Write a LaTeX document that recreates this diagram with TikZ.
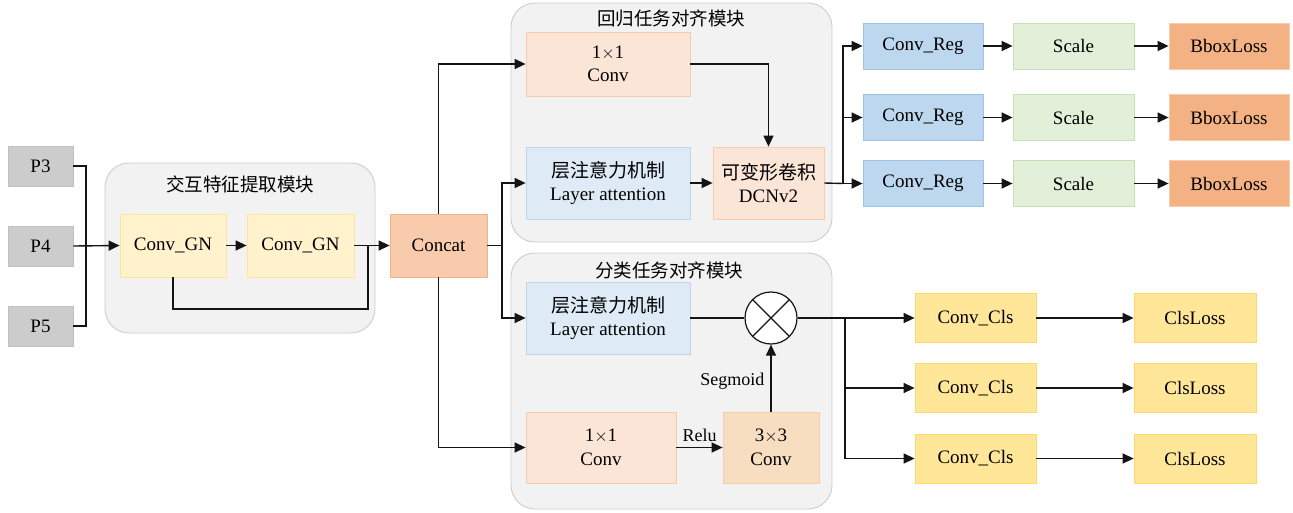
\documentclass[tikz,border=0pt]{standalone}
\usepackage{fontspec}
\setmainfont{Liberation Serif}
\newfontfamily\cjk{Noto Sans CJK SC}
\usetikzlibrary{arrows.meta}
\definecolor{pgray}{RGB}{204,204,204}
\definecolor{pgrayb}{RGB}{192,192,192}
\definecolor{modbg}{RGB}{242,242,242}
\definecolor{modbd}{RGB}{205,205,205}
\definecolor{ylight}{RGB}{255,242,204}
\definecolor{ylightb}{RGB}{255,230,153}
\definecolor{orng}{RGB}{248,203,173}
\definecolor{orngb}{RGB}{244,177,131}
\definecolor{peach}{RGB}{251,229,214}
\definecolor{peachb}{RGB}{248,203,173}
\definecolor{blight}{RGB}{222,235,247}
\definecolor{blightb}{RGB}{189,215,238}
\definecolor{bmid}{RGB}{189,215,238}
\definecolor{bmidb}{RGB}{157,195,230}
\definecolor{gr}{RGB}{226,240,217}
\definecolor{grb}{RGB}{197,224,180}
\definecolor{bbox}{RGB}{244,177,131}
\definecolor{bboxb}{RGB}{248,203,173}
\definecolor{tan}{RGB}{248,222,192}
\definecolor{tanb}{RGB}{244,208,168}
\definecolor{ymid}{RGB}{255,230,153}
\definecolor{ymidb}{RGB}{255,217,102}
\definecolor{lnc}{RGB}{20,20,20}
\begin{document}
\begin{tikzpicture}[x=1pt,y=-1pt,
  font=\fontsize{19}{23.5}\selectfont,
  wh/.style 2 args={minimum width=#1pt, minimum height=#2pt},
  bx/.style={rectangle, draw, line width=0.8pt, inner sep=0pt, align=center},
  mod/.style={draw=modbd, fill=modbg, line width=0.9pt, rounded corners=24pt},
  ttl/.style={font=\cjk\fontsize{18.5}{20}\selectfont, inner sep=0pt},
  ln/.style={draw=lnc, line width=1.4pt},
  arr/.style={ln, -{Triangle[length=11pt,width=10pt]}},
  lbl/.style={inner sep=0pt, font=\fontsize{18}{20}\selectfont}
]
\useasboundingbox (0,0) rectangle (1293,512);

% module backgrounds
\draw[mod] (105,163) rectangle (375,333);
\draw[mod] (511,3) rectangle (832,242);
\draw[mod] (511,253) rectangle (832,509);
\node[ttl] (t1) at (240,184) {交互特征提取模块};
\node[ttl] (t2) at (671,18) {回归任务对齐模块};
\node[ttl] (t3) at (669,270) {分类任务对齐模块};

% inputs
\node[bx, wh={65}{40}, fill=pgray, draw=pgrayb] (P3) at (40.5,166) {P3};
\node[bx, wh={65}{40}, fill=pgray, draw=pgrayb] (P4) at (40.5,246) {P4};
\node[bx, wh={65}{40}, fill=pgray, draw=pgrayb] (P5) at (40.5,326) {P5};

% interaction module
\node[bx, wh={106}{63}, fill=ylight, draw=ylightb] (gn1) at (173,245.5) {Conv\_GN};
\node[bx, wh={107}{63}, fill=ylight, draw=ylightb] (gn2) at (300.5,245.5) {Conv\_GN};
\node[bx, wh={97}{63}, fill=orng, draw=orngb] (concat) at (438.5,245.5) {Concat};

% regression module
\node[bx, wh={164}{64}, fill=peach, draw=peachb] (rconv) at (608,64) {1$\times$1\\Conv};
\node[bx, wh={164}{72}, fill=blight, draw=blightb] (rla) at (608,183) {{\cjk 层注意力机制}\\Layer attention};
\node[bx, wh={111}{72}, fill=peach, draw=peachb] (dcn) at (768.5,183) {{\cjk 可变形卷积}\\DCNv2};

% regression heads
\foreach \n/\y in {1/46,2/117.5,3/183.5}{
  \node[bx, wh={120}{46}, fill=bmid, draw=bmidb] (reg\n) at (923,\y) {Conv\_Reg};
  \node[bx, wh={121}{46}, fill=gr, draw=grb] (sc\n) at (1073.5,\y) {Scale};
  \node[bx, wh={120}{46}, fill=bbox, draw=bboxb] (bl\n) at (1229,\y) {BboxLoss};
}

% classification module
\node[bx, wh={164}{72}, fill=blight, draw=blightb] (cla) at (608,318) {{\cjk 层注意力机制}\\Layer attention};
\node[circle, draw=lnc, line width=1.2pt, fill=white, minimum size=52pt, inner sep=0pt,
  path picture={\draw[lnc, line width=1.2pt] (path picture bounding box.north west) -- (path picture bounding box.south east)
  (path picture bounding box.north east) -- (path picture bounding box.south west);}] (circ) at (771,318) {};
\node[bx, wh={150}{71}, fill=peach, draw=peachb] (cconv) at (601,447.5) {1$\times$1\\Conv};
\node[bx, wh={96}{71}, fill=tan, draw=tanb] (c33) at (771,447.5) {3$\times$3\\Conv};

% classification heads
\foreach \n/\y in {1/318,2/388,3/458.5}{
  \node[bx, wh={121}{49}, fill=ymid, draw=ymidb] (cls\n) at (975.5,\y) {Conv\_Cls};
  \node[bx, wh={122}{49}, fill=ymid, draw=ymidb] (cl\n) at (1195,\y) {ClsLoss};
}

% connectors: inputs
\coordinate (pj) at (86,246);
\draw[ln] (P3.east) -| (pj);
\draw[ln] (P5.east) -| (pj);
\draw[arr] (P4.east) -- (gn1.west);
\draw[arr] (gn1) -- (gn2);
\draw[arr] (gn2) -- (concat);
\coordinate (fb) at (368,309);
\draw[ln] (gn1.south) |- (fb) -- (fb |- gn2.east);

% concat branches
\draw[arr] (concat.north) |- (rconv.west);
\draw[arr] (concat.south) |- (cconv.west);
\coordinate (cs) at (502,245.5);
\draw[ln] (concat.east) -- (cs);
\draw[arr] (cs) |- (rla.west);
\draw[arr] (cs) |- (cla.west);

% regression internals
\draw[arr] (rconv.east) -| (dcn.north);
\draw[arr] (rla) -- (dcn);
\coordinate (rs) at (843,183.5);
\draw[ln] (dcn.east) -- (rs);
\foreach \n in {1,2,3}{
  \draw[arr] (rs) |- (reg\n.west);
  \draw[arr] (reg\n) -- (sc\n);
  \draw[arr] (sc\n) -- (bl\n);
}

% classification internals
\draw[ln] (cla.east) -- (circ.west);
\draw[arr] (cconv) -- node[lbl, above=5pt] (relu) {Relu} (c33);
\draw[arr] (c33.north) -- node[lbl, left=6pt, pos=0.45] (seg) {Segmoid} (circ.south);
\coordinate (cb) at (845,318);
\draw[arr] (circ.east) -- (cls1.west);
\draw[arr] (cb) |- (cls2.west);
\draw[arr] (cb) |- (cls3.west);
\foreach \n in {1,2,3}{
  \draw[arr] (cls\n) -- (cl\n);
}
\end{tikzpicture}
\end{document}
